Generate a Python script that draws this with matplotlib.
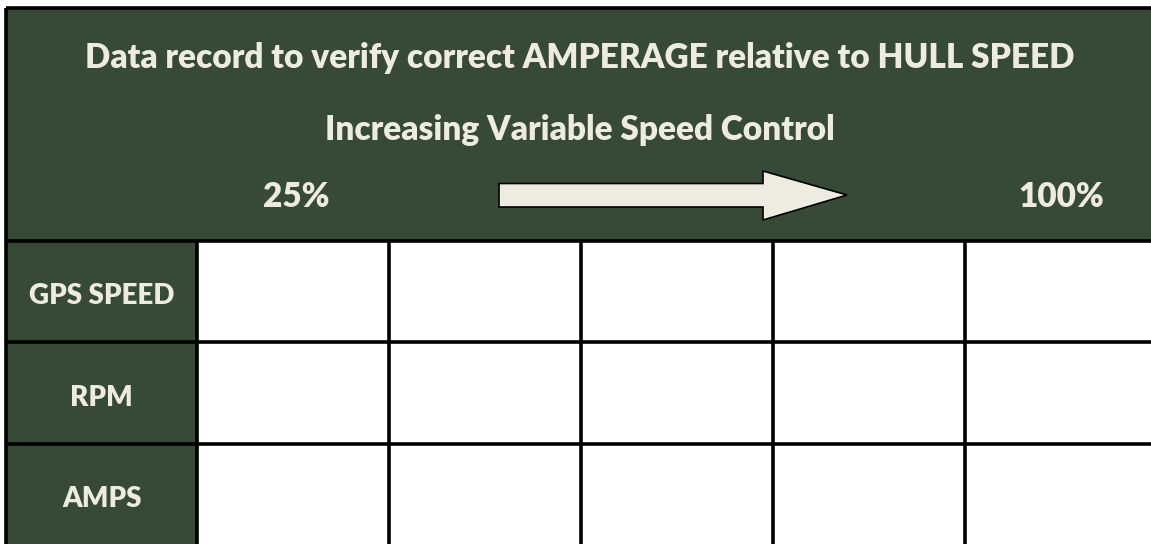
import matplotlib.pyplot as plt
from matplotlib.patches import Rectangle, Polygon

# table content
title = 'Data record to verify correct AMPERAGE relative to HULL SPEED'
subtitle = 'Increasing Variable Speed Control'
low_label = '25%'
high_label = '100%'
row_labels = ['GPS SPEED', 'RPM', 'AMPS']
n_cols = 5

green = '#364a35'
cream = '#eeebe0'

plt.rcParams['font.family'] = ['Lato', 'DejaVu Sans']

fig = plt.figure(figsize=(11.51, 5.44), dpi=100)
ax = fig.add_axes([0, 0, 1, 1])
ax.set_xlim(0, 1151)
ax.set_ylim(544, 0)
ax.axis('off')

# layout in pixels
left, top = 6.5, 7.5
head_bottom = 240.5
label_right = 197
col_w = 192
row_h = 101.5
right = 1151 + 5
bottom = 544 + 5

# header block
ax.add_patch(Rectangle((left, top), right - left, head_bottom - top, facecolor=green, edgecolor='none'))
# label column
ax.add_patch(Rectangle((left, head_bottom), label_right - left, bottom - head_bottom, facecolor=green, edgecolor='none'))

fs = 24
ax.text(580, 58, title, ha='center', va='center', color=cream, fontsize=fs, fontweight='heavy')
ax.text(580, 130, subtitle, ha='center', va='center', color=cream, fontsize=fs, fontweight='heavy')
ax.text(296, 197, low_label, ha='center', va='center', color=cream, fontsize=fs, fontweight='heavy')
ax.text(1061, 197, high_label, ha='center', va='center', color=cream, fontsize=fs, fontweight='heavy')

# arrow
arrow = [(499, 183.5), (763, 183.5), (763, 171), (847, 195), (763, 220), (763, 207), (499, 207)]
ax.add_patch(Polygon(arrow, closed=True, facecolor=cream, edgecolor='black', linewidth=1.2))

for i, lab in enumerate(row_labels):
    yc = head_bottom + row_h * (i + 0.5) + 5
    ax.text((left + label_right) / 2, yc, lab, ha='center', va='center', color=cream, fontsize=20, fontweight='heavy')

lw = 2.6
# outer border (top, left)
ax.hlines(top, left, right, color='black', linewidth=lw)
ax.vlines(left, top, bottom, color='black', linewidth=lw)
# grid
ax.hlines([head_bottom + row_h * i for i in range(len(row_labels))], left, right, color='black', linewidth=lw)
ax.vlines([label_right + col_w * j for j in range(n_cols)], head_bottom, bottom, color='black', linewidth=lw)

fig.savefig('out.png', dpi=100)
